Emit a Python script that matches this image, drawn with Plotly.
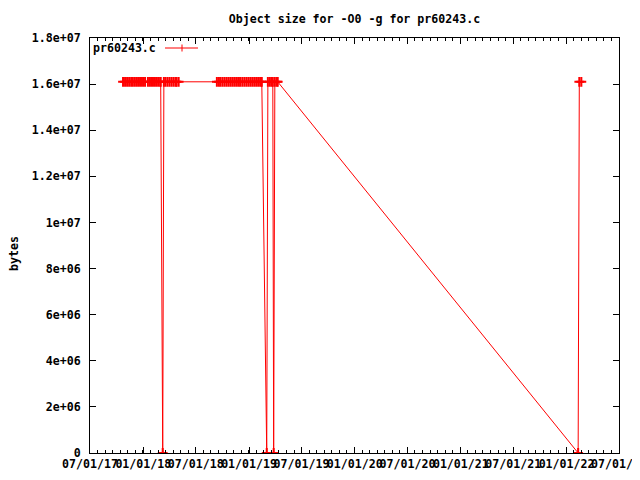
import plotly.graph_objects as go

# ---------------- data ----------------
dates = [
    "2017-10-23", "2017-10-30", "2017-11-06", "2017-11-13", "2017-11-20", "2017-11-26", "2017-12-03",
    "2017-12-10", "2017-12-17", "2017-12-24", "2017-12-31", "2018-01-07",
    "2018-01-17", "2018-01-24", "2018-01-31", "2018-02-07", "2018-02-14", "2018-02-21",
    "2018-02-28", "2018-03-02", "2018-03-09",
    "2018-03-13", "2018-03-19", "2018-03-26", "2018-04-02", "2018-04-09", "2018-04-16", "2018-04-23", "2018-04-26",
    "2018-05-03",
    "2018-09-12", "2018-09-19", "2018-09-25", "2018-10-02", "2018-10-09", "2018-10-16", "2018-10-23", "2018-10-30",
    "2018-11-06", "2018-11-13", "2018-11-20", "2018-11-27", "2018-12-03", "2018-12-10", "2018-12-17", "2018-12-24",
    "2018-12-31", "2019-01-07", "2019-01-14", "2019-01-21", "2019-01-28", "2019-02-04", "2019-02-11", "2019-02-14",
    "2019-03-03",
    "2019-03-07", "2019-03-14", "2019-03-21", "2019-03-24", "2019-03-27", "2019-03-31", "2019-04-07", "2019-04-10",
    "2022-02-10", "2022-02-14", "2022-02-21",
]
sizes = [
    16100000, 16100000, 16100000, 16100000, 16100000, 16100000, 16100000,
    16100000, 16100000, 16100000, 16100000, 16100000,
    16100000, 16100000, 16100000, 16100000, 16100000, 16100000,
    16100000, 16100000, 0,
    16100000, 16100000, 16100000, 16100000, 16100000, 16100000, 16100000, 16100000,
    16100000,
    16100000, 16100000, 16100000, 16100000, 16100000, 16100000, 16100000, 16100000,
    16100000, 16100000, 16100000, 16100000, 16100000, 16100000, 16100000, 16100000,
    16100000, 16100000, 16100000, 16100000, 16100000, 16100000, 16100000, 16100000,
    0,
    16100000, 16100000, 16100000, 16100000, 0, 16100000, 16100000, 16100000,
    0, 16100000, 16100000,
]

x_tick_dates = ["2017-07-01", "2018-01-01", "2018-07-01", "2019-01-01", "2019-07-01", "2020-01-01",
                "2020-07-01", "2021-01-01", "2021-07-01", "2022-01-01", "2022-07-01"]
x_tick_labels = ["07/01/17", "01/01/18", "07/01/18", "01/01/19", "07/01/19", "01/01/20",
                 "07/01/20", "01/01/21", "07/01/21", "01/01/22", "07/01/22"]
y_tick_vals = [0, 2e6, 4e6, 6e6, 8e6, 1e7, 1.2e7, 1.4e7, 1.6e7, 1.8e7]
y_tick_labels = ["0", "2e+06", "4e+06", "6e+06", "8e+06", "1e+07", "1.2e+07", "1.4e+07", "1.6e+07", "1.8e+07"]

series_name = "pr60243.c"
title_text = "Object size for -O0 -g for pr60243.c"
y_title = "bytes"

FONT = "DejaVu Sans Mono"
RED = "#ff0000"
FS = 11.6

fig = go.Figure()
fig.add_trace(go.Scatter(
    x=dates, y=sizes, mode="lines+markers", name=series_name,
    line=dict(color=RED, width=1),
    marker=dict(symbol="cross-thin", size=7, line=dict(color=RED, width=2)),
    showlegend=False,
))

# the page body has an 8px margin; shift the layout to compensate
OFF = 8
W, H = 640, 480
L, T = 90 - OFF, 38 - OFF
R = W - (619 - OFF)
B = H - (453 - OFF)
pw, ph = W - L - R, H - T - B

MINOR_MS = 182.6 / 7 * 86400000  # seven minor intervals per major interval

fig.update_layout(
    width=W, height=H,
    margin=dict(l=L, r=R, t=T, b=B, pad=0),
    paper_bgcolor="white", plot_bgcolor="white",
    font=dict(family=FONT, size=FS, color="black", weight="bold"),
    title=dict(text=title_text, x=(L + pw / 2) / W, xanchor="center",
               y=1 - (19 - OFF) / H, yanchor="middle", yref="container",
               font=dict(family=FONT, size=FS, color="black", weight="bold")),
    xaxis=dict(
        type="date", range=["2017-07-01", "2022-07-01"],
        tickmode="array", tickvals=x_tick_dates, ticktext=x_tick_labels, tickangle=0,
        ticks="inside", ticklen=6, tickcolor="black", tickwidth=1,
        showline=True, linecolor="black", linewidth=1, mirror="allticks",
        showgrid=False, zeroline=False,
        minor=dict(ticks="inside", ticklen=3, tickcolor="black",
                   tickmode="linear", tick0="2017-07-01", dtick=MINOR_MS, showgrid=False),
        automargin=False,
    ),
    yaxis=dict(
        range=[0, 1.8e7],
        tickmode="array", tickvals=y_tick_vals, ticktext=y_tick_labels,
        ticks="inside", ticklen=6, tickcolor="black", tickwidth=1,
        showline=True, linecolor="black", linewidth=1, mirror="allticks",
        showgrid=False, zeroline=False, ticklabelstandoff=6,
        automargin=False,
    ),
)

# y axis label
fig.add_annotation(text=y_title, xref="paper", yref="paper",
                   x=(14 - 90) / pw, y=(453 - 254) / ph, textangle=-90,
                   showarrow=False, xanchor="center", yanchor="middle",
                   font=dict(family=FONT, size=FS, color="black", weight="bold"))

# legend (gnuplot style: text then sample)
ly = (453 - 48) / ph
fig.add_annotation(text=series_name, xref="paper", yref="paper",
                   x=(158 - 90) / pw, y=ly, xanchor="right", yanchor="middle",
                   showarrow=False, font=dict(family=FONT, size=FS, color="black", weight="bold"))
fig.add_shape(type="line", xref="paper", yref="paper",
              x0=(165 - 90) / pw, x1=(198 - 90) / pw, y0=ly, y1=ly,
              line=dict(color=RED, width=1))
fig.add_shape(type="line", xref="paper", yref="paper",
              x0=(182 - 90) / pw, x1=(182 - 90) / pw, y0=ly - 3.5 / ph, y1=ly + 3.5 / ph,
              line=dict(color=RED, width=1))

fig.write_html("out.html")
